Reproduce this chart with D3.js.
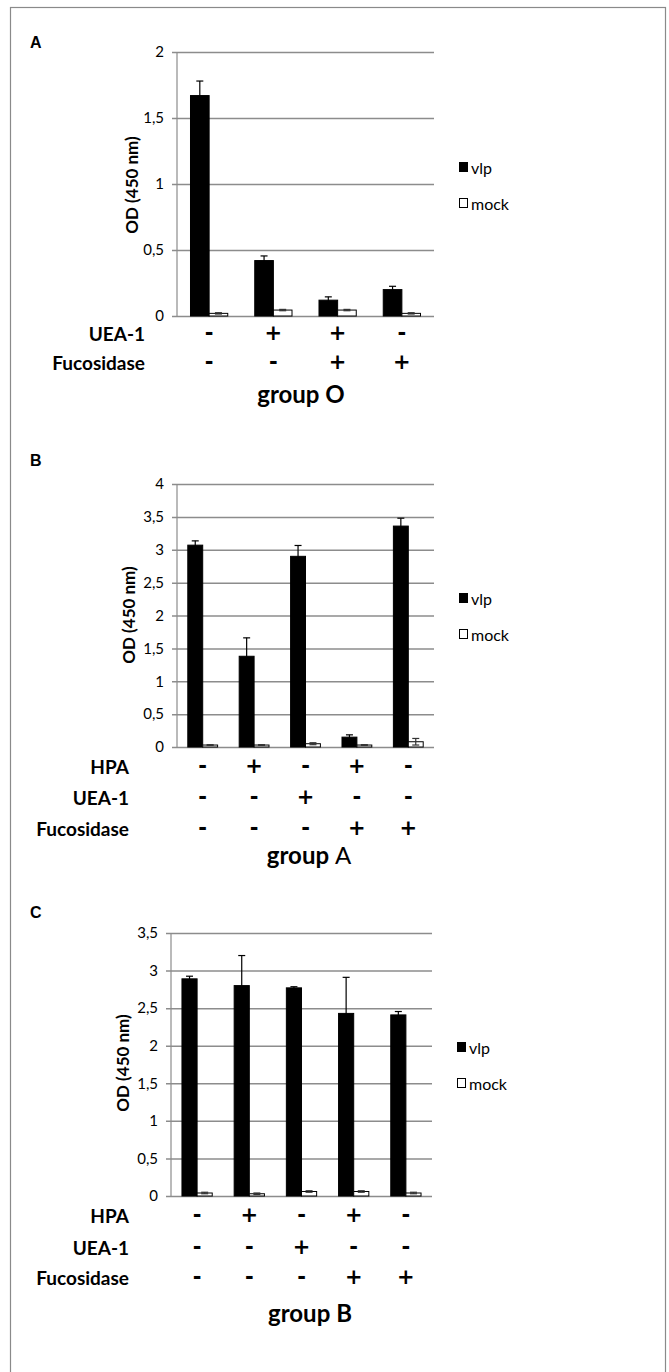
<!DOCTYPE html>
<html>
<head>
<meta charset="utf-8">
<script src="https://cdn.jsdelivr.net/npm/d3@7"></script>
<style>
  body { margin: 0; background: #fff; }
  svg { display: block; }
  text { font-family: Lato, "Open Sans", sans-serif; fill: #000; }
</style>
</head>
<body>
<div id="chart"></div>
<script>
// Panel A: group O
const seriesNames = ['vlp', 'mock'];
const ticksA = [0, 0.5, 1, 1.5, 2];
const vlpA = [1.67, 0.42, 0.12, 0.20];
const vlpErrA = [0.11, 0.035, 0.025, 0.025];
const mockA = [0.02, 0.045, 0.045, 0.02];
const mockErrA = [0.005, 0.005, 0.005, 0.005];
const rowsA = ['UEA-1', 'Fucosidase'];
const signsA = [['-', '+', '+', '-'], ['-', '-', '+', '+']];

// Panel B: group A
const ticksB = [0, 0.5, 1, 1.5, 2, 2.5, 3, 3.5, 4];
const vlpB = [3.07, 1.38, 2.90, 0.15, 3.36];
const vlpErrB = [0.065, 0.28, 0.165, 0.035, 0.12];
const mockB = [0.03, 0.03, 0.05, 0.03, 0.08];
const mockErrB = [0.005, 0.005, 0.015, 0.005, 0.05];
const rowsB = ['HPA', 'UEA-1', 'Fucosidase'];
const signsB = [['-', '+', '-', '+', '-'], ['-', '-', '+', '-', '-'], ['-', '-', '-', '+', '+']];

// Panel C: group B
const ticksC = [0, 0.5, 1, 1.5, 2, 2.5, 3, 3.5];
const vlpC = [2.89, 2.80, 2.77, 2.43, 2.41];
const vlpErrC = [0.035, 0.40, 0.015, 0.48, 0.045];
const mockC = [0.04, 0.03, 0.06, 0.06, 0.04];
const mockErrC = [0.01, 0.01, 0.01, 0.01, 0.01];
const rowsC = ['HPA', 'UEA-1', 'Fucosidase'];
const signsC = signsB;

const fmt = d => String(d).replace('.', ',');

const svg = d3.select('#chart').append('svg')
  .attr('width', 669)
  .attr('height', 1372);

// outer frame
svg.append('rect')
  .attr('x', 10.5).attr('y', 7.5)
  .attr('width', 655).attr('height', 1400)
  .attr('fill', 'none')
  .attr('stroke', '#8a8a8a')
  .attr('stroke-width', 1.2);

function drawPanel(p) {
  const g = svg.append('g');
  const n = p.vlp.length;

  const y = d3.scaleLinear()
    .domain([0, d3.max(p.ticks)])
    .range([p.bottom, p.top]);

  const x = d3.scaleBand()
    .domain(d3.range(n))
    .range([p.left, p.right])
    .padding(0);

  const bw = x.bandwidth();
  const xs = d3.scaleBand()
    .domain(seriesNames)
    .range([bw * 0.21, bw * 0.79])
    .padding(0);

  // panel letter
  g.append('text')
    .attr('x', 30).attr('y', p.letterY)
    .style('font-family', '"Liberation Sans", Arial, sans-serif')
    .style('font-weight', 'bold')
    .style('font-size', '16px')
    .text(p.letter);

  // gridlines + ticks
  const yAxis = d3.axisLeft(y)
    .tickValues(p.ticks)
    .tickSize(-(p.right - p.left) - 5)
    .tickPadding(8)
    .tickFormat(fmt);

  const ax = g.append('g')
    .attr('transform', `translate(${p.left - 5},0)`)
    .call(yAxis);
  ax.select('.domain').remove();
  ax.selectAll('.tick line')
    .attr('stroke', '#8c8c8c')
    .attr('stroke-width', 1.5)
    .attr('x1', 0)
    .attr('x2', p.right - p.left + 5);
  ax.selectAll('.tick text')
    .style('font-family', 'Lato, sans-serif')
    .style('font-size', '15px')
    .attr('fill', '#000');

  g.append('line')
    .attr('x1', p.left).attr('x2', p.left)
    .attr('y1', p.top).attr('y2', p.bottom)
    .attr('stroke', '#8c8c8c')
    .attr('stroke-width', 1.2);

  // y label
  g.append('text')
    .attr('transform', `translate(${p.labelX},${p.labelY}) rotate(-90)`)
    .attr('text-anchor', 'middle')
    .attr('dominant-baseline', 'central')
    .style('font-weight', 'bold')
    .style('font-size', '17px')
    .text('OD (450 nm)');

  const series = [
    { key: 'vlp', values: p.vlp, errs: p.vlpErr, fill: '#000' },
    { key: 'mock', values: p.mock, errs: p.mockErr, fill: '#fff' }
  ];

  series.forEach(s => {
    const bars = g.append('g');
    bars.selectAll('rect')
      .data(s.values)
      .join('rect')
      .attr('x', (d, i) => x(i) + xs(s.key))
      .attr('y', d => y(d))
      .attr('width', xs.bandwidth())
      .attr('height', d => p.bottom - y(d))
      .attr('fill', s.fill)
      .attr('stroke', '#000')
      .attr('stroke-width', 1);

    const cx = i => x(i) + xs(s.key) + xs.bandwidth() / 2;
    const errG = bars.selectAll('g.err')
      .data(s.values)
      .join('g')
      .attr('class', 'err');
    errG.append('line')
      .attr('x1', (d, i) => cx(i)).attr('x2', (d, i) => cx(i))
      .attr('y1', (d, i) => y(d - s.errs[i]))
      .attr('y2', (d, i) => y(d + s.errs[i]))
      .attr('stroke', s.key === 'vlp' ? '#000' : '#333')
      .attr('stroke-width', 1.2);
    [1, -1].forEach(sg => {
      errG.append('line')
        .attr('x1', (d, i) => cx(i) - 3.5).attr('x2', (d, i) => cx(i) + 3.5)
        .attr('y1', (d, i) => y(d + sg * s.errs[i]))
        .attr('y2', (d, i) => y(d + sg * s.errs[i]))
        .attr('stroke', s.key === 'vlp' ? '#000' : '#333')
        .attr('stroke-width', 1.2);
    });
  });

  // legend
  const lg = g.append('g').attr('transform', `translate(${p.legendX},0)`);
  series.forEach((s, k) => {
    const cy = p.legendY[k];
    lg.append('rect')
      .attr('x', 0.5).attr('y', cy - 4.5)
      .attr('width', 8).attr('height', 9)
      .attr('fill', s.fill)
      .attr('stroke', '#000')
      .attr('stroke-width', 1);
    lg.append('text')
      .attr('x', 12).attr('y', cy)
      .attr('dominant-baseline', 'central')
      .style('font-size', '16px')
      .text(s.key);
  });

  // treatment rows
  p.rows.forEach((r, k) => {
    const cy = p.rowY[k];
    g.append('text')
      .attr('x', p.rowLabelX).attr('y', cy)
      .attr('text-anchor', 'end')
      .attr('dominant-baseline', 'central')
      .style('font-weight', 'bold')
      .style('font-size', '19px')
      .text(r);
    g.selectAll(null)
      .data(p.signs[k])
      .join('text')
      .attr('x', (d, i) => x(i) + bw / 2)
      .attr('y', cy)
      .attr('text-anchor', 'middle')
      .attr('dominant-baseline', 'central')
      .style('font-family', '"DejaVu Sans", sans-serif')
      .style('font-weight', 'bold')
      .style('font-size', '21px')
      .text(d => d);
  });

  // group title
  const t = g.append('text')
    .attr('x', p.titleX).attr('y', p.titleY)
    .attr('text-anchor', 'middle')
    .style('font-size', '24px');
  t.append('tspan').style('font-weight', 'bold').text('group ');
  t.append('tspan').style('font-weight', p.titleLight ? 'normal' : 'bold').text(p.groupName);
}

drawPanel({
  letter: 'A', letterY: 48,
  ticks: ticksA, vlp: vlpA, vlpErr: vlpErrA, mock: mockA, mockErr: mockErrA,
  rows: rowsA, signs: signsA,
  left: 177, right: 434, top: 52, bottom: 316,
  labelX: 131, labelY: 185,
  legendX: 459, legendY: [167, 203],
  rowLabelX: 145, rowY: [333, 362],
  titleX: 301, titleY: 403, groupName: 'O', titleLight: false
});

drawPanel({
  letter: 'B', letterY: 466,
  ticks: ticksB, vlp: vlpB, vlpErr: vlpErrB, mock: mockB, mockErr: mockErrB,
  rows: rowsB, signs: signsB,
  left: 177, right: 434, top: 484, bottom: 747,
  labelX: 128, labelY: 615,
  legendX: 459, legendY: [598, 634],
  rowLabelX: 129, rowY: [766, 797, 828],
  titleX: 309, titleY: 864, groupName: 'A', titleLight: true
});

drawPanel({
  letter: 'C', letterY: 918,
  ticks: ticksC, vlp: vlpC, vlpErr: vlpErrC, mock: mockC, mockErr: mockErrC,
  rows: rowsC, signs: signsC,
  left: 171, right: 432, top: 933, bottom: 1196,
  labelX: 122, labelY: 1063,
  legendX: 457, legendY: [1047, 1083],
  rowLabelX: 129, rowY: [1215, 1247, 1277],
  titleX: 310, titleY: 1322, groupName: 'B', titleLight: false
});
</script>
</body>
</html>
